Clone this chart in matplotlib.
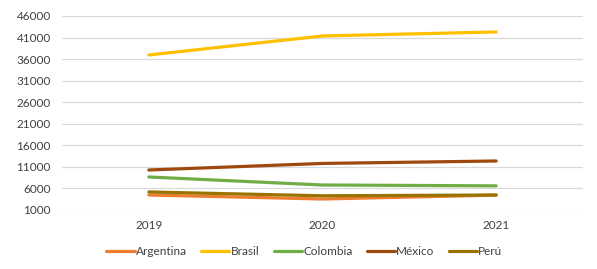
import matplotlib
matplotlib.use("Agg")
import matplotlib.pyplot as plt

years = ["2019", "2020", "2021"]
countries = ["Argentina", "Brasil", "Colombia", "México", "Perú"]
argentina = [4480, 3550, 4450]
brasil = [36960, 41370, 42300]
colombia = [8660, 6800, 6600]
mexico = [10280, 11800, 12370]
peru = [5180, 4300, 4480]
colors = ["#ED7D31", "#FFC000", "#70AD47", "#9E480E", "#997300"]
yticks = [1000, 6000, 11000, 16000, 21000, 26000, 31000, 36000, 41000, 46000]

plt.rcParams['font.family'] = ['Lato', 'DejaVu Sans']
fig = plt.figure(figsize=(5.97, 2.69), dpi=100)
ax = fig.add_axes([62/597, (269-210)/269, (583-62)/597, (210-16)/269])

x = range(len(years))
for name, vals, c in zip(countries, [argentina, brasil, colombia, mexico, peru], colors):
    ax.plot(x, vals, color=c, lw=2.3, label=name, solid_capstyle='round')

ax.set_xlim(-0.5, 2.5)
ax.set_ylim(1000, 46000)
ax.set_yticks(yticks)
ax.set_xticks(list(x))
ax.set_xticklabels(years)
ax.yaxis.grid(True, color="#D9D9D9", lw=0.9)
ax.set_axisbelow(True)
for s in ax.spines.values():
    s.set_visible(False)
ax.tick_params(axis='both', length=0, labelsize=8.5, labelcolor="#404040")
ax.tick_params(axis='y', pad=8)
ax.tick_params(axis='x', pad=7)

leg = ax.legend(loc='center', bbox_to_anchor=(0.465, -0.215), ncol=5, frameon=False,
                fontsize=8.5, handlelength=2.4, handletextpad=0.1, columnspacing=1.2,
                labelcolor="#404040")
fig.savefig("out.png", dpi=100)
